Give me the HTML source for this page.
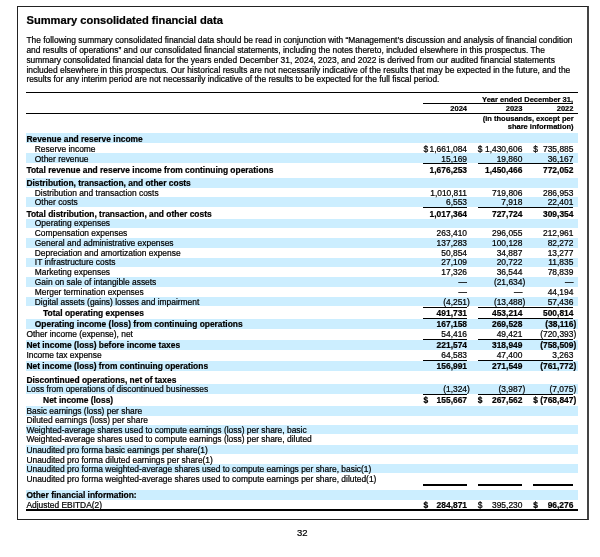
<!DOCTYPE html>
<html><head><meta charset="utf-8"><style>
html,body{margin:0;padding:0;background:#fff;width:600px;height:557px;overflow:hidden;position:relative}
.t{position:absolute;font-family:"Liberation Sans",sans-serif;white-space:nowrap;line-height:1;color:#000;-webkit-text-stroke:0.22px #000;}
.r{position:absolute}
.wrap{position:absolute;left:0;top:0;width:600px;height:557px;will-change:transform}
.box{position:absolute;left:17px;top:6px;width:569px;height:512px;border:1px solid #222;border-right:2px solid #444;}
</style></head><body>
<div class="wrap"><div class="box"></div>
<div class="r" style="left:25.80px;top:133.40px;width:552.20px;height:10.00px;background:#cceeff"></div>
<div class="r" style="left:25.80px;top:153.20px;width:552.20px;height:9.70px;background:#cceeff"></div>
<div class="r" style="left:25.80px;top:178.00px;width:552.20px;height:9.60px;background:#cceeff"></div>
<div class="r" style="left:25.80px;top:197.30px;width:552.20px;height:9.70px;background:#cceeff"></div>
<div class="r" style="left:25.80px;top:218.80px;width:552.20px;height:9.60px;background:#cceeff"></div>
<div class="r" style="left:25.80px;top:238.20px;width:552.20px;height:9.70px;background:#cceeff"></div>
<div class="r" style="left:25.80px;top:257.70px;width:552.20px;height:9.60px;background:#cceeff"></div>
<div class="r" style="left:25.80px;top:277.00px;width:552.20px;height:9.60px;background:#cceeff"></div>
<div class="r" style="left:25.80px;top:296.80px;width:552.20px;height:9.70px;background:#cceeff"></div>
<div class="r" style="left:25.80px;top:319.20px;width:552.20px;height:9.50px;background:#cceeff"></div>
<div class="r" style="left:25.80px;top:340.20px;width:552.20px;height:9.40px;background:#cceeff"></div>
<div class="r" style="left:25.80px;top:361.30px;width:552.20px;height:9.60px;background:#cceeff"></div>
<div class="r" style="left:25.80px;top:384.20px;width:552.20px;height:9.40px;background:#cceeff"></div>
<div class="r" style="left:25.80px;top:406.00px;width:552.20px;height:9.50px;background:#cceeff"></div>
<div class="r" style="left:25.80px;top:424.90px;width:552.20px;height:9.50px;background:#cceeff"></div>
<div class="r" style="left:25.80px;top:444.90px;width:552.20px;height:9.50px;background:#cceeff"></div>
<div class="r" style="left:25.80px;top:463.80px;width:552.20px;height:9.50px;background:#cceeff"></div>
<div class="r" style="left:25.80px;top:490.00px;width:552.20px;height:9.50px;background:#cceeff"></div>
<div class="t" style="left:26.40px;top:135.02px;font-size:8.42px;font-weight:bold;">Revenue and reserve income</div>
<div class="t" style="left:34.80px;top:144.72px;font-size:8.42px;">Reserve income</div>
<div class="t" style="right:133.00px;top:144.72px;font-size:8.42px;">1,661,084</div>
<div class="t" style="left:423.60px;top:144.72px;font-size:8.42px;">$</div>
<div class="t" style="right:77.60px;top:144.72px;font-size:8.42px;">1,430,606</div>
<div class="t" style="left:477.70px;top:144.72px;font-size:8.42px;">$</div>
<div class="t" style="right:26.60px;top:144.72px;font-size:8.42px;">735,885</div>
<div class="t" style="left:533.20px;top:144.72px;font-size:8.42px;">$</div>
<div class="t" style="left:34.80px;top:154.72px;font-size:8.42px;">Other revenue</div>
<div class="t" style="right:133.00px;top:154.72px;font-size:8.42px;">15,169</div>
<div class="t" style="right:77.60px;top:154.72px;font-size:8.42px;">19,860</div>
<div class="t" style="right:26.60px;top:154.72px;font-size:8.42px;">36,167</div>
<div class="t" style="left:26.40px;top:165.92px;font-size:8.42px;font-weight:bold;">Total revenue and reserve income from continuing operations</div>
<div class="t" style="right:133.00px;top:165.92px;font-size:8.42px;font-weight:bold;">1,676,253</div>
<div class="t" style="right:77.60px;top:165.92px;font-size:8.42px;font-weight:bold;">1,450,466</div>
<div class="t" style="right:26.60px;top:165.92px;font-size:8.42px;font-weight:bold;">772,052</div>
<div class="t" style="left:26.40px;top:178.92px;font-size:8.42px;font-weight:bold;">Distribution, transaction, and other costs</div>
<div class="t" style="left:34.80px;top:188.52px;font-size:8.42px;">Distribution and transaction costs</div>
<div class="t" style="right:133.00px;top:188.52px;font-size:8.42px;">1,010,811</div>
<div class="t" style="right:77.60px;top:188.52px;font-size:8.42px;">719,806</div>
<div class="t" style="right:26.60px;top:188.52px;font-size:8.42px;">286,953</div>
<div class="t" style="left:34.80px;top:198.32px;font-size:8.42px;">Other costs</div>
<div class="t" style="right:133.00px;top:198.32px;font-size:8.42px;">6,553</div>
<div class="t" style="right:77.60px;top:198.32px;font-size:8.42px;">7,918</div>
<div class="t" style="right:26.60px;top:198.32px;font-size:8.42px;">22,401</div>
<div class="t" style="left:26.40px;top:209.92px;font-size:8.42px;font-weight:bold;">Total distribution, transaction, and other costs</div>
<div class="t" style="right:133.00px;top:209.92px;font-size:8.42px;font-weight:bold;">1,017,364</div>
<div class="t" style="right:77.60px;top:209.92px;font-size:8.42px;font-weight:bold;">727,724</div>
<div class="t" style="right:26.60px;top:209.92px;font-size:8.42px;font-weight:bold;">309,354</div>
<div class="t" style="left:34.80px;top:219.32px;font-size:8.42px;">Operating expenses</div>
<div class="t" style="left:34.80px;top:229.32px;font-size:8.42px;">Compensation expenses</div>
<div class="t" style="right:133.00px;top:229.32px;font-size:8.42px;">263,410</div>
<div class="t" style="right:77.60px;top:229.32px;font-size:8.42px;">296,055</div>
<div class="t" style="right:26.60px;top:229.32px;font-size:8.42px;">212,961</div>
<div class="t" style="left:34.80px;top:238.82px;font-size:8.42px;">General and administrative expenses</div>
<div class="t" style="right:133.00px;top:238.82px;font-size:8.42px;">137,283</div>
<div class="t" style="right:77.60px;top:238.82px;font-size:8.42px;">100,128</div>
<div class="t" style="right:26.60px;top:238.82px;font-size:8.42px;">82,272</div>
<div class="t" style="left:34.80px;top:248.52px;font-size:8.42px;">Depreciation and amortization expense</div>
<div class="t" style="right:133.00px;top:248.52px;font-size:8.42px;">50,854</div>
<div class="t" style="right:77.60px;top:248.52px;font-size:8.42px;">34,887</div>
<div class="t" style="right:26.60px;top:248.52px;font-size:8.42px;">13,277</div>
<div class="t" style="left:34.80px;top:258.22px;font-size:8.42px;">IT infrastructure costs</div>
<div class="t" style="right:133.00px;top:258.22px;font-size:8.42px;">27,109</div>
<div class="t" style="right:77.60px;top:258.22px;font-size:8.42px;">20,722</div>
<div class="t" style="right:26.60px;top:258.22px;font-size:8.42px;">11,835</div>
<div class="t" style="left:34.80px;top:268.22px;font-size:8.42px;">Marketing expenses</div>
<div class="t" style="right:133.00px;top:268.22px;font-size:8.42px;">17,326</div>
<div class="t" style="right:77.60px;top:268.22px;font-size:8.42px;">36,544</div>
<div class="t" style="right:26.60px;top:268.22px;font-size:8.42px;">78,839</div>
<div class="t" style="left:34.80px;top:277.92px;font-size:8.42px;">Gain on sale of intangible assets</div>
<div class="t" style="right:133.00px;top:277.92px;font-size:8.42px;">—</div>
<div class="t" style="right:77.60px;top:277.92px;font-size:8.42px;">(21,634</div>
<div class="t" style="left:522.40px;top:277.92px;font-size:8.42px;">)</div>
<div class="t" style="right:26.60px;top:277.92px;font-size:8.42px;">—</div>
<div class="t" style="left:34.80px;top:287.82px;font-size:8.42px;">Merger termination expenses</div>
<div class="t" style="right:133.00px;top:287.82px;font-size:8.42px;">—</div>
<div class="t" style="right:77.60px;top:287.82px;font-size:8.42px;">—</div>
<div class="t" style="right:26.60px;top:287.82px;font-size:8.42px;">44,194</div>
<div class="t" style="left:34.80px;top:297.72px;font-size:8.42px;">Digital assets (gains) losses and impairment</div>
<div class="t" style="right:133.00px;top:297.72px;font-size:8.42px;">(4,251</div>
<div class="t" style="left:467.00px;top:297.72px;font-size:8.42px;">)</div>
<div class="t" style="right:77.60px;top:297.72px;font-size:8.42px;">(13,488</div>
<div class="t" style="left:522.40px;top:297.72px;font-size:8.42px;">)</div>
<div class="t" style="right:26.60px;top:297.72px;font-size:8.42px;">57,436</div>
<div class="t" style="left:43.10px;top:309.32px;font-size:8.42px;font-weight:bold;">Total operating expenses</div>
<div class="t" style="right:133.00px;top:309.32px;font-size:8.42px;font-weight:bold;">491,731</div>
<div class="t" style="right:77.60px;top:309.32px;font-size:8.42px;font-weight:bold;">453,214</div>
<div class="t" style="right:26.60px;top:309.32px;font-size:8.42px;font-weight:bold;">500,814</div>
<div class="t" style="left:34.80px;top:320.22px;font-size:8.42px;font-weight:bold;">Operating income (loss) from continuing operations</div>
<div class="t" style="right:133.00px;top:320.22px;font-size:8.42px;font-weight:bold;">167,158</div>
<div class="t" style="right:77.60px;top:320.22px;font-size:8.42px;font-weight:bold;">269,528</div>
<div class="t" style="right:26.60px;top:320.22px;font-size:8.42px;font-weight:bold;">(38,116</div>
<div class="t" style="left:573.40px;top:320.22px;font-size:8.42px;font-weight:bold;">)</div>
<div class="t" style="left:26.40px;top:329.92px;font-size:8.42px;">Other income (expense), net</div>
<div class="t" style="right:133.00px;top:329.92px;font-size:8.42px;">54,416</div>
<div class="t" style="right:77.60px;top:329.92px;font-size:8.42px;">49,421</div>
<div class="t" style="right:26.60px;top:329.92px;font-size:8.42px;">(720,393</div>
<div class="t" style="left:573.40px;top:329.92px;font-size:8.42px;">)</div>
<div class="t" style="left:26.40px;top:340.92px;font-size:8.42px;font-weight:bold;">Net income (loss) before income taxes</div>
<div class="t" style="right:133.00px;top:340.92px;font-size:8.42px;font-weight:bold;">221,574</div>
<div class="t" style="right:77.60px;top:340.92px;font-size:8.42px;font-weight:bold;">318,949</div>
<div class="t" style="right:26.60px;top:340.92px;font-size:8.42px;font-weight:bold;">(758,509</div>
<div class="t" style="left:573.40px;top:340.92px;font-size:8.42px;font-weight:bold;">)</div>
<div class="t" style="left:26.40px;top:350.72px;font-size:8.42px;">Income tax expense</div>
<div class="t" style="right:133.00px;top:350.72px;font-size:8.42px;">64,583</div>
<div class="t" style="right:77.60px;top:350.72px;font-size:8.42px;">47,400</div>
<div class="t" style="right:26.60px;top:350.72px;font-size:8.42px;">3,263</div>
<div class="t" style="left:26.40px;top:362.42px;font-size:8.42px;font-weight:bold;">Net income (loss) from continuing operations</div>
<div class="t" style="right:133.00px;top:362.42px;font-size:8.42px;font-weight:bold;">156,991</div>
<div class="t" style="right:77.60px;top:362.42px;font-size:8.42px;font-weight:bold;">271,549</div>
<div class="t" style="right:26.60px;top:362.42px;font-size:8.42px;font-weight:bold;">(761,772</div>
<div class="t" style="left:573.40px;top:362.42px;font-size:8.42px;font-weight:bold;">)</div>
<div class="t" style="left:26.40px;top:376.12px;font-size:8.42px;font-weight:bold;">Discontinued operations, net of taxes</div>
<div class="t" style="left:26.40px;top:385.32px;font-size:8.42px;">Loss from operations of discontinued businesses</div>
<div class="t" style="right:133.00px;top:385.32px;font-size:8.42px;">(1,324</div>
<div class="t" style="left:467.00px;top:385.32px;font-size:8.42px;">)</div>
<div class="t" style="right:77.60px;top:385.32px;font-size:8.42px;">(3,987</div>
<div class="t" style="left:522.40px;top:385.32px;font-size:8.42px;">)</div>
<div class="t" style="right:26.60px;top:385.32px;font-size:8.42px;">(7,075</div>
<div class="t" style="left:573.40px;top:385.32px;font-size:8.42px;">)</div>
<div class="t" style="left:43.10px;top:396.32px;font-size:8.42px;font-weight:bold;">Net income (loss)</div>
<div class="t" style="right:133.00px;top:396.32px;font-size:8.42px;font-weight:bold;">155,667</div>
<div class="t" style="left:423.60px;top:396.32px;font-size:8.42px;font-weight:bold;">$</div>
<div class="t" style="right:77.60px;top:396.32px;font-size:8.42px;font-weight:bold;">267,562</div>
<div class="t" style="left:477.70px;top:396.32px;font-size:8.42px;font-weight:bold;">$</div>
<div class="t" style="right:26.60px;top:396.32px;font-size:8.42px;font-weight:bold;">(768,847</div>
<div class="t" style="left:573.40px;top:396.32px;font-size:8.42px;font-weight:bold;">)</div>
<div class="t" style="left:533.20px;top:396.32px;font-size:8.42px;font-weight:bold;">$</div>
<div class="t" style="left:26.40px;top:406.72px;font-size:8.42px;">Basic earnings (loss) per share</div>
<div class="t" style="left:26.40px;top:415.92px;font-size:8.42px;">Diluted earnings (loss) per share</div>
<div class="t" style="left:26.40px;top:425.92px;font-size:8.42px;">Weighted-average shares used to compute earnings (loss) per share, basic</div>
<div class="t" style="left:26.40px;top:435.32px;font-size:8.42px;">Weighted-average shares used to compute earnings (loss) per share, diluted</div>
<div class="t" style="left:26.40px;top:445.62px;font-size:8.42px;">Unaudited pro forma basic earnings per share(1)</div>
<div class="t" style="left:26.40px;top:455.52px;font-size:8.42px;">Unaudited pro forma diluted earnings per share(1)</div>
<div class="t" style="left:26.40px;top:465.02px;font-size:8.42px;">Unaudited pro forma weighted-average shares used to compute earnings per share, basic(1)</div>
<div class="t" style="left:26.40px;top:474.82px;font-size:8.42px;">Unaudited pro forma weighted-average shares used to compute earnings per share, diluted(1)</div>
<div class="t" style="left:26.40px;top:490.82px;font-size:8.42px;font-weight:bold;">Other financial information:</div>
<div class="t" style="left:26.40px;top:500.62px;font-size:8.42px;">Adjusted EBITDA(2)</div>
<div class="t" style="right:133.00px;top:500.62px;font-size:8.42px;font-weight:bold;">284,871</div>
<div class="t" style="left:423.60px;top:500.62px;font-size:8.42px;font-weight:bold;">$</div>
<div class="t" style="right:77.60px;top:500.62px;font-size:8.42px;">395,230</div>
<div class="t" style="left:477.70px;top:500.62px;font-size:8.42px;">$</div>
<div class="t" style="right:26.60px;top:500.62px;font-size:8.42px;font-weight:bold;">96,276</div>
<div class="t" style="left:533.20px;top:500.62px;font-size:8.42px;font-weight:bold;">$</div>
<div class="r" style="left:25.80px;top:91.70px;width:552.20px;height:1.20px;background:#000"></div>
<div class="r" style="left:423.30px;top:103.20px;width:150.00px;height:1.20px;background:#000"></div>
<div class="r" style="left:25.80px;top:112.70px;width:552.20px;height:1.20px;background:#000"></div>
<div class="r" style="left:423.30px;top:163.10px;width:44.00px;height:1.20px;background:#000"></div>
<div class="r" style="left:477.60px;top:163.10px;width:95.70px;height:1.20px;background:#000"></div>
<div class="r" style="left:423.30px;top:207.30px;width:44.00px;height:1.20px;background:#000"></div>
<div class="r" style="left:477.60px;top:207.30px;width:95.70px;height:1.20px;background:#000"></div>
<div class="r" style="left:423.30px;top:306.60px;width:44.00px;height:1.20px;background:#000"></div>
<div class="r" style="left:477.60px;top:306.60px;width:95.70px;height:1.20px;background:#000"></div>
<div class="r" style="left:423.30px;top:318.00px;width:44.00px;height:1.20px;background:#000"></div>
<div class="r" style="left:477.60px;top:318.00px;width:95.70px;height:1.20px;background:#000"></div>
<div class="r" style="left:423.30px;top:338.70px;width:44.00px;height:1.20px;background:#000"></div>
<div class="r" style="left:477.60px;top:338.70px;width:95.70px;height:1.20px;background:#000"></div>
<div class="r" style="left:423.30px;top:359.50px;width:44.00px;height:1.20px;background:#000"></div>
<div class="r" style="left:477.60px;top:359.50px;width:95.70px;height:1.20px;background:#000"></div>
<div class="r" style="left:423.30px;top:393.60px;width:44.00px;height:1.20px;background:#000"></div>
<div class="r" style="left:477.60px;top:393.60px;width:95.70px;height:1.20px;background:#000"></div>
<div class="r" style="left:423.30px;top:484.00px;width:44.00px;height:2.00px;background:#000"></div>
<div class="r" style="left:477.60px;top:484.00px;width:44.80px;height:2.00px;background:#000"></div>
<div class="r" style="left:533.00px;top:484.00px;width:40.30px;height:2.00px;background:#000"></div>
<div class="r" style="left:25.80px;top:509.20px;width:552.20px;height:1.60px;background:#000"></div>
<div class="t" style="right:27.00px;top:95.60px;font-size:7.5px;font-weight:bold;">Year ended December 31,</div>
<div class="t" style="right:133.00px;top:105.40px;font-size:7.5px;font-weight:bold;">2024</div>
<div class="t" style="right:77.60px;top:105.40px;font-size:7.5px;font-weight:bold;">2023</div>
<div class="t" style="right:26.60px;top:105.40px;font-size:7.5px;font-weight:bold;">2022</div>
<div class="t" style="right:26.40px;top:114.90px;font-size:7.5px;font-weight:bold;">(in thousands, except per</div>
<div class="t" style="right:26.40px;top:123.10px;font-size:7.5px;font-weight:bold;">share information)</div>
<div class="t" style="left:26.50px;top:15.24px;font-size:11.12px;font-weight:bold;transform:scaleY(1.06);transform-origin:0 84.65%;">Summary consolidated financial data</div>
<div class="t" style="left:26.40px;top:36.22px;font-size:8.42px;">The following summary consolidated financial data should be read in conjunction with “Management’s discussion and analysis of financial condition</div>
<div class="t" style="left:26.40px;top:45.82px;font-size:8.42px;">and results of operations” and our consolidated financial statements, including the notes thereto, included elsewhere in this prospectus. The</div>
<div class="t" style="left:26.40px;top:55.72px;font-size:8.42px;">summary consolidated financial data for the years ended December 31, 2024, 2023, and 2022 is derived from our audited financial statements</div>
<div class="t" style="left:26.40px;top:65.92px;font-size:8.42px;">included elsewhere in this prospectus. Our historical results are not necessarily indicative of the results that may be expected in the future, and the</div>
<div class="t" style="left:26.40px;top:75.22px;font-size:8.42px;">results for any interim period are not necessarily indicative of the results to be expected for the full fiscal period.</div>
<div class="t" style="left:297.00px;top:528.11px;font-size:9.5px;">32</div>
</div></body></html>
